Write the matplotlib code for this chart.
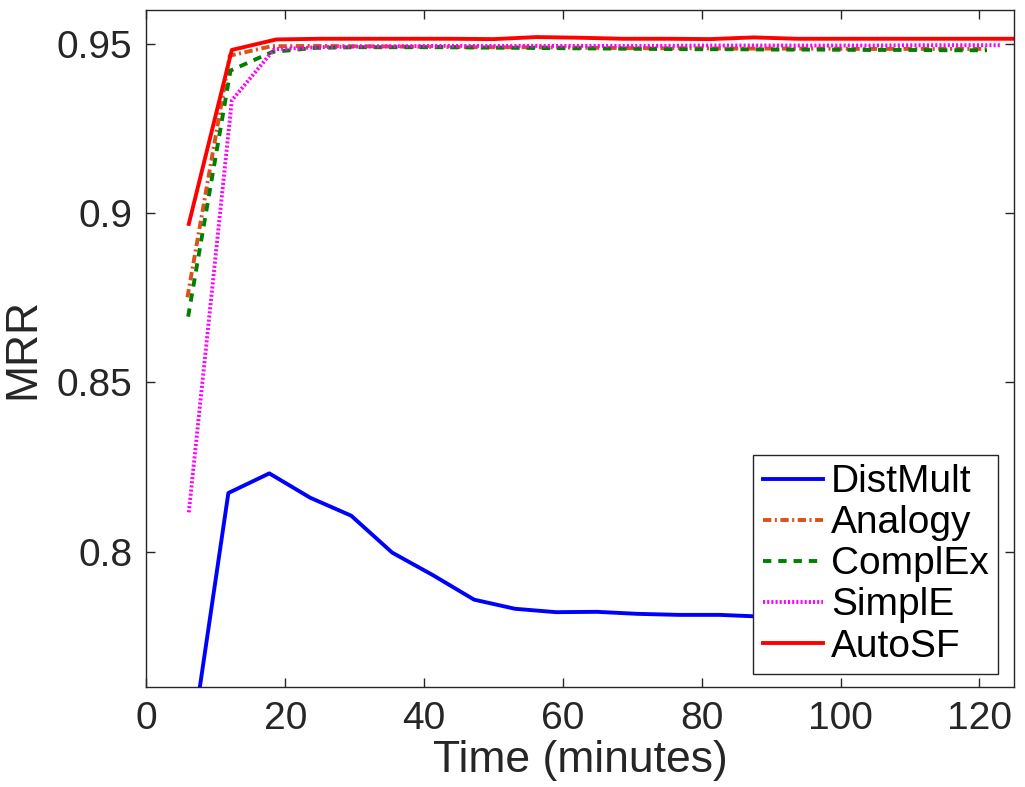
import matplotlib
matplotlib.use('Agg')
import matplotlib.pyplot as plt

plt.rcParams['font.family'] = ['Liberation Sans', 'DejaVu Sans']
plt.rcParams['lines.scale_dashes'] = False

# time (minutes) per model
t_distmult = [5.9, 11.8, 17.7, 23.6, 29.5, 35.4, 41.3, 47.2, 53.1, 59.0,
              64.9, 70.8, 76.7, 82.6, 88.5, 94.4, 100.3, 106.2, 112.1, 118.0]
t_analogy = [5.9, 12.0, 18.0, 24.1, 30.1, 36.2, 42.3, 48.3, 54.4, 60.4,
             66.5, 72.6, 78.6, 84.7, 90.7, 96.8, 102.9, 108.9, 115.0, 121.0]
t_complex = [6.0, 12.1, 18.1, 24.2, 30.2, 36.3, 42.4, 48.4, 54.5, 60.5,
             66.6, 72.7, 78.7, 84.8, 90.8, 96.9, 103.0, 109.0, 115.1, 121.1]
t_simple = [6.1, 12.3, 18.4, 24.6, 30.7, 36.9, 43.0, 49.2, 55.3, 61.5,
            67.6, 73.8, 79.9, 86.1, 92.2, 98.4, 104.5, 110.7, 116.8, 123.0]
t_autosf = [6.1, 12.3, 18.7, 25.0, 31.2, 37.5, 43.7, 50.0, 56.2, 62.5,
            68.7, 75.0, 81.2, 87.5, 93.7, 100.0, 106.2, 112.5, 118.7, 125.0]

# MRR
mrr_distmult = [0.735, 0.8173, 0.8231, 0.8159, 0.8106, 0.7997, 0.7930, 0.7858, 0.7831, 0.7821,
                0.7822, 0.7816, 0.7813, 0.7813, 0.7808, 0.7805, 0.7803, 0.7802, 0.7801, 0.7800]
mrr_analogy = [0.8751, 0.9465, 0.9493, 0.9494, 0.9493, 0.9492, 0.9491, 0.9490, 0.9490, 0.9489,
               0.9488, 0.9487, 0.9487, 0.9486, 0.9486, 0.9486, 0.9485, 0.9485, 0.9485, 0.9485]
mrr_complex = [0.8694, 0.9421, 0.9476, 0.9488, 0.9490, 0.9490, 0.9490, 0.9489, 0.9488, 0.9487,
               0.9486, 0.9485, 0.9484, 0.9484, 0.9483, 0.9483, 0.9482, 0.9482, 0.9481, 0.9481]
mrr_simple = [0.8116, 0.9333, 0.9484, 0.9490, 0.9492, 0.9493, 0.9494, 0.9494, 0.9494, 0.9494,
              0.9494, 0.9494, 0.9495, 0.9495, 0.9495, 0.9495, 0.9495, 0.9496, 0.9496, 0.9496]
mrr_autosf = [0.8968, 0.9482, 0.9513, 0.9515, 0.9515, 0.9515, 0.9515, 0.9514, 0.9520, 0.9518,
              0.9515, 0.9515, 0.9514, 0.9519, 0.9515, 0.9515, 0.9515, 0.9515, 0.9515, 0.9515]

fig = plt.figure(figsize=(10.25, 7.87), dpi=100)
ax = fig.add_axes([0.1429, 0.1271, 0.8464, 0.8602])

lw = 2.8
ax.plot(t_distmult, mrr_distmult, color='#0000FF', lw=lw, label='DistMult')
ax.plot(t_analogy, mrr_analogy, color='#D95319', lw=lw, dashes=(6, 2.5, 1.5, 2.5), label='Analogy')
ax.plot(t_complex, mrr_complex, color='#008000', lw=lw, dashes=(6, 5), label='ComplEx')
ax.plot(t_simple, mrr_simple, color='#FF00FF', lw=lw, dashes=(1.5, 1.5), label='SimplE')
ax.plot(t_autosf, mrr_autosf, color='#FF0000', lw=lw, label='AutoSF')

ax.set_xlim(0, 125)
ax.set_ylim(0.76, 0.96)
ax.set_xticks([0, 20, 40, 60, 80, 100, 120])
ax.set_yticks([0.8, 0.85, 0.9, 0.95])
ax.set_yticklabels(['0.8', '0.85', '0.9', '0.95'])

ax.tick_params(direction='in', length=6.5, width=1.0, top=True, right=True,
               labelsize=28, colors='#262626', pad=10)
for s in ax.spines.values():
    s.set_linewidth(1.0)
    s.set_color('#262626')

ax.set_xlabel('Time (minutes)', fontsize=32, color='#262626', labelpad=2)
ax.set_ylabel('MRR', fontsize=32, color='#262626', labelpad=10)

leg = ax.legend(loc='lower right', bbox_to_anchor=(0.982, 0.0188), borderaxespad=0,
                fontsize=28, fancybox=False, framealpha=1, edgecolor='#262626',
                handlelength=1.55, handletextpad=0.2, labelspacing=0.13, borderpad=0.25)
leg.get_frame().set_linewidth(1.0)

fig.savefig('out.png', dpi=100)
